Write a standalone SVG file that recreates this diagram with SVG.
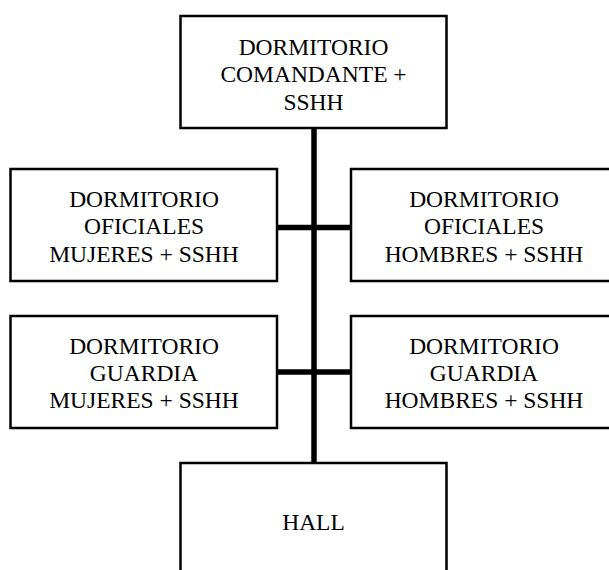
<svg xmlns="http://www.w3.org/2000/svg" width="609" height="570" viewBox="0 0 609 570">
<style>
.box{fill:#fff;stroke:#000;stroke-width:2.5}
.lbl{font-size:23.5px;fill:#000;text-anchor:middle;font-family:'Liberation Serif','Times New Roman',serif}
.conn{stroke:#000;stroke-width:5.5;fill:none}
</style>
<rect width="609" height="570" fill="#fff"/>
<g id="connectors">
<line class="conn" x1="314" y1="128" x2="314" y2="463"/>
<line class="conn" x1="277" y1="227.5" x2="351" y2="227.5"/>
<line class="conn" x1="277" y1="372" x2="351" y2="372"/>
</g>
<g id="comandante">
<rect class="box" x="180.5" y="16" width="266" height="112"/>
<text class="lbl" x="313.5" y="54.5">DORMITORIO</text>
<text class="lbl" x="313.5" y="82">COMANDANTE +</text>
<text class="lbl" x="313.5" y="109.5">SSHH</text>
</g>
<g id="oficiales-mujeres">
<rect class="box" x="10.5" y="169" width="266.5" height="112"/>
<text class="lbl" x="144" y="207">DORMITORIO</text>
<text class="lbl" x="144" y="234">OFICIALES</text>
<text class="lbl" x="144" y="261.5">MUJERES + SSHH</text>
</g>
<g id="oficiales-hombres">
<rect class="box" x="351" y="169" width="266.5" height="112"/>
<text class="lbl" x="484" y="207">DORMITORIO</text>
<text class="lbl" x="484" y="234">OFICIALES</text>
<text class="lbl" x="484" y="261.5">HOMBRES + SSHH</text>
</g>
<g id="guardia-mujeres">
<rect class="box" x="10.5" y="316" width="266.5" height="112"/>
<text class="lbl" x="144" y="354">DORMITORIO</text>
<text class="lbl" x="144" y="381">GUARDIA</text>
<text class="lbl" x="144" y="408">MUJERES + SSHH</text>
</g>
<g id="guardia-hombres">
<rect class="box" x="351" y="316" width="266.5" height="112"/>
<text class="lbl" x="484" y="354">DORMITORIO</text>
<text class="lbl" x="484" y="381">GUARDIA</text>
<text class="lbl" x="484" y="408">HOMBRES + SSHH</text>
</g>
<g id="hall">
<rect class="box" x="180.5" y="463" width="266" height="130"/>
<text class="lbl" x="313.5" y="529.5">HALL</text>
</g>
</svg>
